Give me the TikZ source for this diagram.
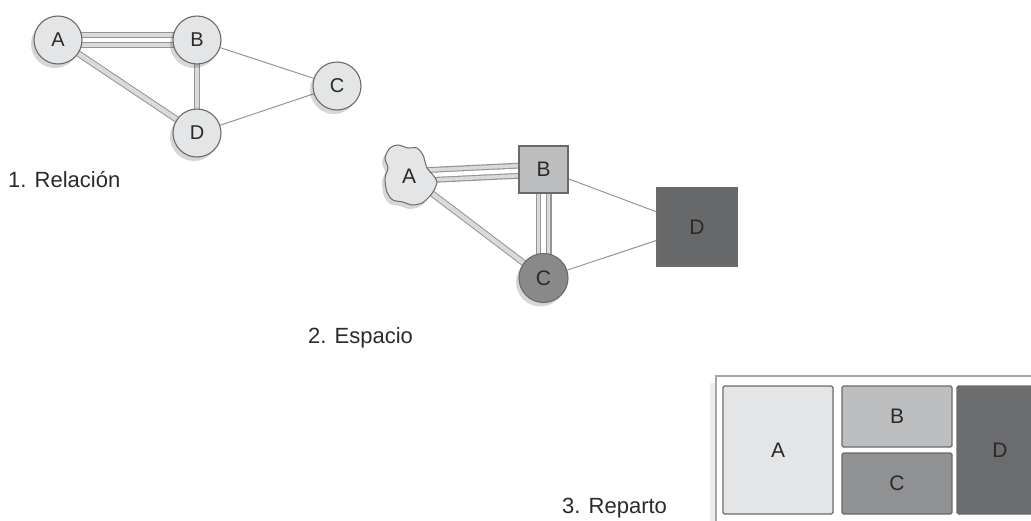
\documentclass[tikz,border=0pt]{standalone}
\usepackage{fontspec}
\setmainfont{Liberation Sans}
\usepackage{xcolor}
\usetikzlibrary{shadows}

\definecolor{nodelight}{HTML}{E4E5E7}
\definecolor{nodemid}{HTML}{BDBEC0}
\definecolor{nodedark}{HTML}{88898B}
\definecolor{nodedarker}{HTML}{67686A}
\definecolor{cellC}{HTML}{909193}
\definecolor{cellD}{HTML}{6B6C6E}
\definecolor{linegray}{HTML}{6A6A6A}
\definecolor{edgegray}{HTML}{959595}
\definecolor{bandgray}{HTML}{DADADA}
\definecolor{txtgray}{HTML}{2A2A2A}

\pgfdeclarelayer{background}
\pgfsetlayers{background,main}

\begin{document}
\begin{tikzpicture}[x=1pt, y=-1pt,
    every node/.style={text=txtgray},
    soft shadow/.style={drop shadow={shadow xshift=-3pt, shadow yshift=-4pt, fill=black, opacity=0.16}},
    bubble/.style={circle, draw=linegray, line width=1.1pt, inner sep=0pt, soft shadow},
    box/.style={rectangle, draw=linegray, line width=1.1pt, inner sep=0pt},
    cell/.style={rectangle, draw=linegray, line width=1.1pt, rounded corners=1.5pt, inner sep=0pt, minimum width=110pt, font=\fontsize{21}{24}\selectfont},
    caption/.style={anchor=base west, inner sep=0pt, font=\fontsize{22}{26}\selectfont},
    thinedge/.style={draw=edgegray, line width=1pt},
    doubleedge/.style={draw=edgegray, line width=1pt, double=bandgray, double distance=4.5pt},
    tripleedge/.style={draw=edgegray, line width=16pt,
        postaction={draw=bandgray, line width=13.6pt},
        postaction={draw=edgegray, line width=6.4pt},
        postaction={draw=white, line width=4.2pt}}]
    \useasboundingbox (0,0) rectangle (1031,520);

    % --- 1. Relacion ---
    \begin{scope}[every node/.append style={bubble, fill=nodelight, minimum size=48pt, font=\fontsize{20}{24}\selectfont}]
        \node (a1) at (58,40) {A};
        \node (b1) at (197,40) {B};
        \node (c1) at (337,86) {C};
        \node (d1) at (197,133) {D};
    \end{scope}
    \begin{pgfonlayer}{background}
        \draw[tripleedge] (a1.center) -- (b1.center);
        \draw[doubleedge] (a1.center) -- (d1.center);
        \draw[doubleedge] (b1.center) -- (d1.center);
        \draw[thinedge] (b1) -- (c1);
        \draw[thinedge] (d1) -- (c1);
    \end{pgfonlayer}
    \node[caption] (cap1) at (8,187) {1. Relación};

    % --- 2. Espacio ---
    \begin{scope}[shift={(410,175)}]
        \draw[draw=linegray, line width=1pt, fill=nodelight, soft shadow]
            plot[smooth cycle, tension=0.55] coordinates {(-20,-27) (-12,-30) (-2,-27) (7,-27) (13,-20) (17,-7)
            (23,0) (27,7) (23,17) (18,23) (12,28) (2,30) (-7,27) (-17,25) (-23,17) (-25,3) (-22,-7) (-25,-17)};
    \end{scope}
    \node[inner sep=0pt, font=\fontsize{21}{24}\selectfont] (a2) at (409,176) {A};
    \node[box, fill=nodemid, minimum width=49pt, minimum height=47pt, font=\fontsize{21}{24}\selectfont] (b2) at (543.5,169.5) {B};
    \node[bubble, fill=nodedark, minimum size=49pt, font=\fontsize{21}{24}\selectfont] (c2) at (543.5,278) {C};
    \node[box, fill=nodedarker, minimum width=80pt, minimum height=78pt, font=\fontsize{21}{24}\selectfont] (d2) at (697,227) {D};
    \begin{pgfonlayer}{background}
        \draw[tripleedge] (a2.center) -- (b2.center);
        \draw[tripleedge] (b2.center) -- (c2.center);
        \draw[doubleedge] (a2.center) -- (c2.center);
        \draw[thinedge] (b2) -- (d2);
        \draw[thinedge] (c2) -- (d2);
    \end{pgfonlayer}
    \node[caption] (cap2) at (308,343) {2. Espacio};

    % --- 3. Reparto ---
    \draw[draw=black!35, line width=1.3pt, fill=white,
        drop shadow={shadow xshift=-6pt, shadow yshift=-7pt, fill=black, opacity=0.07}]
        (716,376) rectangle (1050,535);
    \node[cell, fill=nodelight, minimum height=128pt] (a3) at (778,450) {A};
    \node[cell, fill=nodemid, minimum height=61pt] (b3) at (897,416.5) {B};
    \node[cell, fill=cellC, minimum height=61pt] (c3) at (897,483.5) {C};
    \node[cell, fill=cellD, minimum width=86pt, minimum height=128pt] (d3) at (1000,450) {D};
    \node[caption] (cap3) at (562,513) {3. Reparto};
\end{tikzpicture}
\end{document}
